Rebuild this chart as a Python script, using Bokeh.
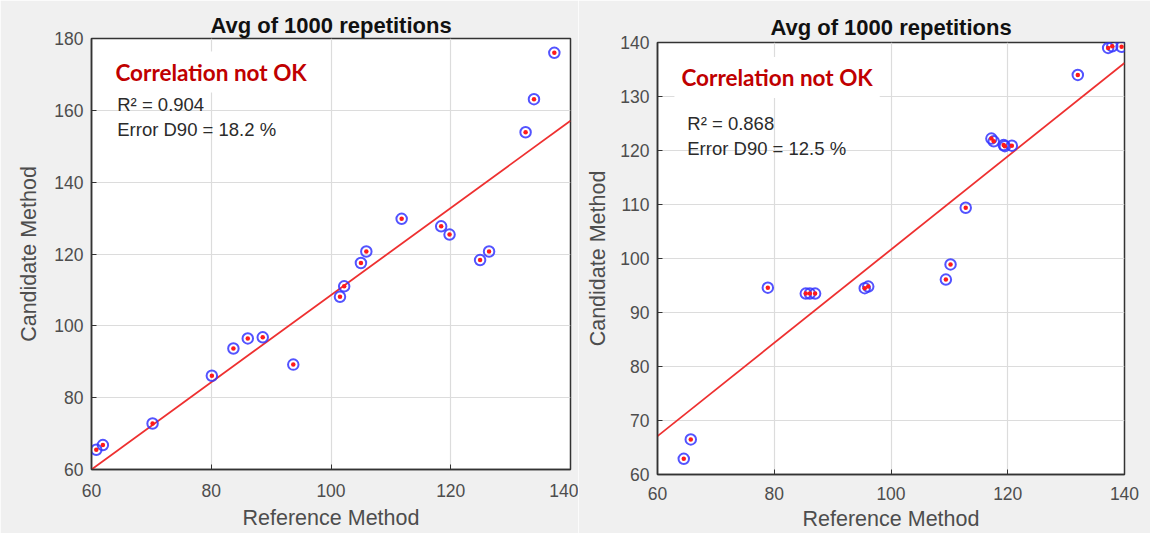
from bokeh.plotting import figure
from bokeh.layouts import row, column
from bokeh.models import Label, ColumnDataSource, FixedTicker, Range1d
from bokeh.embed import file_html
from bokeh.resources import INLINE

# ---------------- data ----------------
TITLE = "Avg of 1000 repetitions"
X_LABEL = "Reference Method"
Y_LABEL = "Candidate Method"
NOTE = "Correlation not OK"

# left panel
left_ref = [60.8, 61.9, 70.2, 80.1, 83.7, 86.1, 88.6, 93.7, 101.5, 102.2,
            105.0, 105.9, 111.8, 118.4, 119.8, 124.9, 126.4, 132.5, 133.9, 137.3]
left_cand = [65.5, 66.8, 72.8, 86.1, 93.7, 96.5, 96.8, 89.2, 108.1, 111.0,
             117.5, 120.7, 129.8, 127.7, 125.4, 118.3, 120.7, 153.9, 163.1, 176.0]
left_fit_x = [60, 140]
left_fit_y = [60.0, 157.1]
left_stats = ["R\u00b2 = 0.904", "Error D90 = 18.2 %"]
left_xticks = [60, 80, 100, 120, 140]
left_yticks = [60, 80, 100, 120, 140, 160, 180]

# right panel
right_ref = [64.5, 65.7, 78.9, 85.4, 86.1, 87.0, 95.5, 96.1, 109.4, 110.2,
             112.8, 117.2, 117.6, 119.3, 119.5, 120.7, 132.0, 137.2, 137.9, 139.5]
right_cand = [62.9, 66.5, 94.6, 93.5, 93.5, 93.5, 94.5, 94.8, 96.1, 98.9,
              109.4, 122.2, 121.7, 121.0, 120.8, 120.9, 134.0, 139.0, 139.3, 139.2]
right_fit_x = [60, 140]
right_fit_y = [67.1, 136.2]
right_stats = ["R\u00b2 = 0.868", "Error D90 = 12.5 %"]
right_xticks = [60, 80, 100, 120, 140]
right_yticks = [60, 70, 80, 90, 100, 110, 120, 130, 140]

FONT = "Liberation Sans"
TICK_COLOR = "#4d4d4d"


def make_panel(ref, cand, fit_x, fit_y, xticks, yticks, stats,
               note_xy, stats_xy, stats_gap, width, height, borders,
               title_standoff, xl_standoffs, ylab_standoff):
    p = figure(width=width, height=height, output_backend="svg",
               toolbar_location=None,
               x_range=Range1d(xticks[0], xticks[-1]),
               y_range=Range1d(yticks[0], yticks[-1]),
               title=TITLE)
    p.min_border_left, p.min_border_right, p.min_border_top, p.min_border_bottom = borders
    p.border_fill_color = "#f0f0f0"
    p.background_fill_color = "white"
    p.outline_line_color = "#333333"
    p.outline_line_width = 1.5

    p.title.text_font = FONT
    p.title.text_font_size = "22px"
    p.title.text_font_style = "bold"
    p.title.text_color = "#111111"
    p.title.align = "center"
    p.title.standoff = title_standoff

    for ax, ticks in ((p.xaxis, xticks), (p.yaxis, yticks)):
        ax.ticker = FixedTicker(ticks=ticks)
        ax.major_label_text_font = FONT
        ax.major_label_text_font_size = "17.5px"
        ax.major_label_text_color = TICK_COLOR
        ax.axis_label_text_font = FONT
        ax.axis_label_text_font_size = "21.5px"
        ax.axis_label_text_font_style = "normal"
        ax.axis_label_text_color = TICK_COLOR
        ax.axis_line_color = "#333333"
        ax.axis_line_width = 1.5
        ax.major_tick_in = 5
        ax.major_tick_out = 0
        ax.major_tick_line_color = "#333333"
        ax.minor_tick_line_color = None
    p.xaxis.major_label_standoff = xl_standoffs[0]
    p.xaxis.axis_label_standoff = xl_standoffs[1]
    p.yaxis.major_label_standoff = 8
    p.yaxis.axis_label_standoff = ylab_standoff
    p.xaxis.axis_label = X_LABEL
    p.yaxis.axis_label = Y_LABEL

    p.grid.grid_line_color = "#dcdcdc"
    p.grid.grid_line_width = 1.2

    src = ColumnDataSource(dict(x=ref, y=cand))
    p.line(fit_x, fit_y, line_color="#ee3030", line_width=1.8)
    p.scatter("x", "y", source=src, marker="circle", size=10.5,
              fill_color=None, line_color="#3535ff", line_width=2, line_alpha=0.85)
    p.scatter("x", "y", source=src, marker="circle", size=4.5,
              fill_color="#ff1a1a", line_color=None)

    p.add_layout(Label(x=note_xy[0], y=note_xy[1], text=NOTE,
                       text_font="Lato", text_font_style="bold",
                       text_font_size="22.5px", text_color="#c00000",
                       text_baseline="alphabetic",
                       x_offset=-7, y_offset=7,
                       background_fill_color="white", padding=7))
    for i, s in enumerate(stats):
        p.add_layout(Label(x=stats_xy[0], y=stats_xy[1] - i * stats_gap, text=s,
                           text_font=FONT, text_font_size="18.5px",
                           text_color="#2b2b2b", text_baseline="alphabetic"))
    return p


p1 = make_panel(left_ref, left_cand, left_fit_x, left_fit_y, left_xticks, left_yticks,
                left_stats, (64.0, 168.7), (64.3, 161.7), 7.0,
                578, 533, (91, 8, 38, 64), 1, (14, 6), 10)
p2 = make_panel(right_ref, right_cand, right_fit_x, right_fit_y, right_xticks, right_yticks,
                right_stats, (64.1, 132.2), (65.1, 125.0), 4.6,
                572, 533, (79, 26, 42, 59), 6, (12, 4), 7)

layout = row(column(p1), column(p2))
open("out.html", "w").write(file_html(layout, INLINE))
